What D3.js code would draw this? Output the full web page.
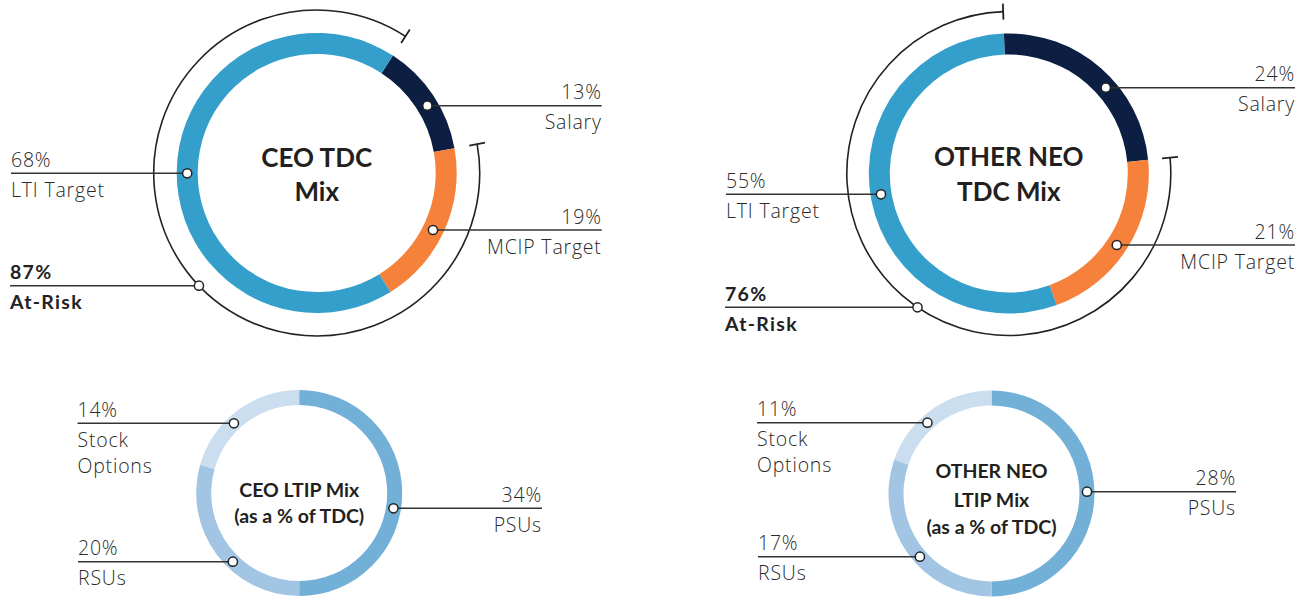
<!DOCTYPE html>
<html>
<head>
<meta charset="utf-8">
<script src="https://cdn.jsdelivr.net/npm/d3@7"></script>
<style>
  body { margin: 0; background: #fff; }
  svg { display: block; }
</style>
</head>
<body>
<div id="chart"></div>
<script>
// pay mix donuts

const tdcLabels = ["Salary", "MCIP Target", "LTI Target"];
const ceoTdc = [13, 19, 68];
const neoTdc = [24, 21, 55];
const ceoAtRisk = 87;
const neoAtRisk = 76;

const ltipLabels = ["PSUs", "RSUs", "Stock Options"];
const ceoLtip = [34, 20, 14];
const neoLtip = [28, 17, 11];

const tdcColors = ["#0c1f42", "#f5813a", "#359fcb"];
const ltipColors = ["#72b0d7", "#a2c5e3", "#cbdeef"];

const width = 1305, height = 612;
const deg = Math.PI / 180;

const svg = d3.select("#chart").append("svg")
    .attr("width", width)
    .attr("height", height)
    .attr("viewBox", [0, 0, width, height]);

const lightFont = "'Open Sans', Lato, sans-serif";
const boldFont = "Lato, sans-serif";

// layout for each donut (label line y, side, and where the line ends)
const charts = [
  {
    values: ceoTdc, names: tdcLabels, colors: tdcColors,
    cx: 316.7, cy: 173, rIn: 119, rOut: 140, start: 33,
    title: ["CEO TDC", "Mix"], titleY: [166.7, 201], titleSize: 26,
    labels: [
      {side: "right", y: 105.7, x: 601.7},
      {side: "right", y: 230, x: 601.7},
      {side: "left", y: 173.3, x: 11}
    ],
    atRisk: {value: ceoAtRisk, r: 163, y: 285.7, x: 10}
  },
  {
    values: neoTdc, names: tdcLabels, colors: tdcColors,
    cx: 1008.8, cy: 173.5, rIn: 119, rOut: 140, start: -2,
    title: ["OTHER NEO", "TDC Mix"], titleY: [165.7, 200.7], titleSize: 26,
    labels: [
      {side: "right", y: 87.7, x: 1295},
      {side: "right", y: 245, x: 1295},
      {side: "left", y: 194.3, x: 726}
    ],
    atRisk: {value: neoAtRisk, r: 162, y: 307.3, x: 725}
  },
  {
    values: ceoLtip, names: ltipLabels, colors: ltipColors,
    cx: 299.2, cy: 493, rIn: 88, rOut: 103, start: 0,
    title: ["CEO LTIP Mix", "(as a % of TDC)"], titleY: [496.7, 523.3], titleSize: 19.5,
    labels: [
      {side: "right", y: 508.3, x: 542},
      {side: "left", y: 561.7, x: 78},
      {side: "left", y: 423.3, x: 77.5}
    ]
  },
  {
    values: neoLtip, names: ltipLabels, colors: ltipColors,
    cx: 991.5, cy: 493.5, rIn: 88, rOut: 103, start: 0,
    title: ["OTHER NEO", "LTIP Mix", "(as a % of TDC)"], titleY: [478.3, 507.3, 534], titleSize: 19.5,
    labels: [
      {side: "right", y: 491.7, x: 1236},
      {side: "left", y: 556.7, x: 758},
      {side: "left", y: 422.7, x: 757}
    ]
  }
];

// point on a circle at height y, on the given side
function pointAtY(c, r, y, side) {
  const dy = y - c.cy;
  const dx = Math.sqrt(Math.max(r * r - dy * dy, 0));
  return side === "left" ? c.cx - dx : c.cx + dx;
}

function drawLabel(g, c, x0, x1, y, pctText, nameLines, side, bold) {
  g.append("line")
    .attr("x1", x0).attr("x2", x1)
    .attr("y1", y).attr("y2", y)
    .attr("stroke", "#333")
    .attr("stroke-width", 1.5);

  const tx = side === "left" ? Math.min(x0, x1) : Math.max(x0, x1);
  const anchor = side === "left" ? "start" : "end";

  const style = sel => sel
    .attr("text-anchor", anchor)
    .attr("font-family", bold ? boldFont : lightFont)
    .attr("font-weight", bold ? 700 : 300)
    .attr("font-size", 19.5)
    .attr("letter-spacing", bold ? 1.3 : 0.8)
    .attr("fill", bold ? "#222" : "#2a2a2a");

  g.append("text")
    .attr("x", tx).attr("y", y - 6.3)
    .call(style)
    .text(pctText);

  nameLines.forEach((t, i) => {
    g.append("text")
      .attr("x", tx).attr("y", y + 23.6 + i * 26)
      .call(style)
      .text(t);
  });
}

function dot(g, x, y) {
  g.append("circle")
    .attr("cx", x).attr("cy", y)
    .attr("r", 4.6)
    .attr("fill", "#fff")
    .attr("stroke", "#222")
    .attr("stroke-width", 1.5);
}

charts.forEach(c => {
  const g = svg.append("g");

  const pie = d3.pie()
      .sort(null)
      .value(d => d)
      .startAngle(c.start * deg)
      .endAngle(c.start * deg + 2 * Math.PI);

  const arcs = pie(c.values);

  const arc = d3.arc()
      .innerRadius(c.rIn)
      .outerRadius(c.rOut);

  g.append("g")
    .attr("transform", `translate(${c.cx},${c.cy})`)
    .selectAll("path")
    .data(arcs)
    .enter()
    .append("path")
    .attr("d", arc)
    .attr("fill", (d, i) => c.colors[i]);

  // at-risk bracket: from the start of MCIP to the end of LTI
  if (c.atRisk) {
    const a0 = arcs[1].startAngle, a1 = arcs[2].endAngle;
    const r = c.atRisk.r;
    const p = d3.path();
    p.arc(c.cx, c.cy, r, a0 - Math.PI / 2, a1 - Math.PI / 2);
    g.append("path")
      .attr("d", p.toString())
      .attr("fill", "none")
      .attr("stroke", "#222")
      .attr("stroke-width", 1.6);

    [a0, a1].forEach(a => {
      const s = Math.sin(a), co = -Math.cos(a);
      g.append("line")
        .attr("x1", c.cx + s * (r - 8)).attr("y1", c.cy + co * (r - 8))
        .attr("x2", c.cx + s * (r + 8)).attr("y2", c.cy + co * (r + 8))
        .attr("stroke", "#222")
        .attr("stroke-width", 1.8);
    });

    const ax = pointAtY(c, r, c.atRisk.y, "left");
    drawLabel(g, c, c.atRisk.x, ax, c.atRisk.y, c.atRisk.value + "%", ["At-Risk"], "left", true);
    dot(g, ax, c.atRisk.y);
  }

  const rMid = (c.rIn + c.rOut) / 2;
  c.labels.forEach((l, i) => {
    const dx = pointAtY(c, rMid, l.y, l.side);
    const nameLines = c.names[i] === "Stock Options" ? ["Stock", "Options"] : [c.names[i]];
    drawLabel(g, c, dx, l.x, l.y, c.values[i] + "%", nameLines, l.side, false);
    dot(g, dx, l.y);
  });

  // centre title
  c.title.forEach((t, i) => {
    g.append("text")
      .attr("x", c.cx).attr("y", c.titleY[i])
      .attr("text-anchor", "middle")
      .attr("font-family", boldFont)
      .attr("font-weight", 700)
      .attr("font-size", c.titleSize)
      .attr("fill", "#231f20")
      .text(t);
  });
});
</script>
</body>
</html>
